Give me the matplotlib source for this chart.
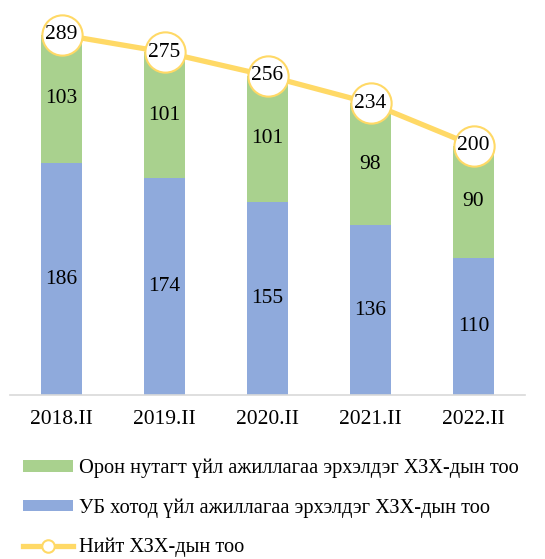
import matplotlib
matplotlib.use("Agg")
import matplotlib.pyplot as plt
import numpy as np

plt.rcParams["font.family"] = ["Liberation Serif", "DejaVu Serif"]

years = ["2018.II", "2019.II", "2020.II", "2021.II", "2022.II"]
ub = [186, 174, 155, 136, 110]
rural = [103, 101, 101, 98, 90]
total = [289, 275, 256, 234, 200]
labels = ["Орон нутагт үйл ажиллагаа эрхэлдэг ХЗХ-дын тоо",
          "УБ хотод үйл ажиллагаа эрхэлдэг ХЗХ-дын тоо",
          "Нийт ХЗХ-дын тоо"]

GREEN = "#A9D18E"; BLUE = "#8FAADC"; YEL = "#FFD966"
FS = 15.5

fig = plt.figure(figsize=(5.45, 5.59), dpi=100)
ax = fig.add_axes([10/545, 164/559, 515/545, 395/559])
x = np.arange(len(years))
b1 = ax.bar(x, ub, width=0.4, color=BLUE, label=labels[1])
b2 = ax.bar(x, rural, width=0.4, bottom=ub, color=GREEN, label=labels[0])
ln, = ax.plot(x, total, color=YEL, lw=3.8, marker="o", ms=29, mfc="white",
              mec=YEL, mew=1.5, label=labels[2], zorder=5)

for i in range(len(years)):
    ax.text(x[i], ub[i] / 2, str(ub[i]), ha="center", va="center", fontsize=FS)
    ax.text(x[i], ub[i] + rural[i] / 2, str(rural[i]), ha="center", va="center", fontsize=FS)
    ax.text(x[i], total[i], str(total[i]), ha="center", va="center", fontsize=FS, zorder=6)

ax.set_xlim(-0.5, len(years) - 0.5)
ax.set_ylim(0, 316.8)
ax.set_xticks(x)
ax.set_xticklabels(years, fontsize=FS)
ax.tick_params(axis="x", length=0, pad=11)
ax.set_yticks([])
for s in ["top", "right", "left"]:
    ax.spines[s].set_visible(False)
ax.spines["bottom"].set_color("#d9d9d9")
ax.spines["bottom"].set_linewidth(1.2)

leg_h = [b2, b1, plt.Line2D([], [], color=YEL, lw=3.8, marker="o", ms=9, mfc="white", mec=YEL, mew=1.5)]
fig.legend(leg_h, labels, loc="upper left", bbox_to_anchor=(23/545, 1 - 459/559),
           frameon=False, fontsize=14.7, handlelength=2.45, handleheight=0.5,
           labelspacing=0.97, handletextpad=0.3, borderaxespad=0, borderpad=0)

fig.savefig("out.png", dpi=100)
